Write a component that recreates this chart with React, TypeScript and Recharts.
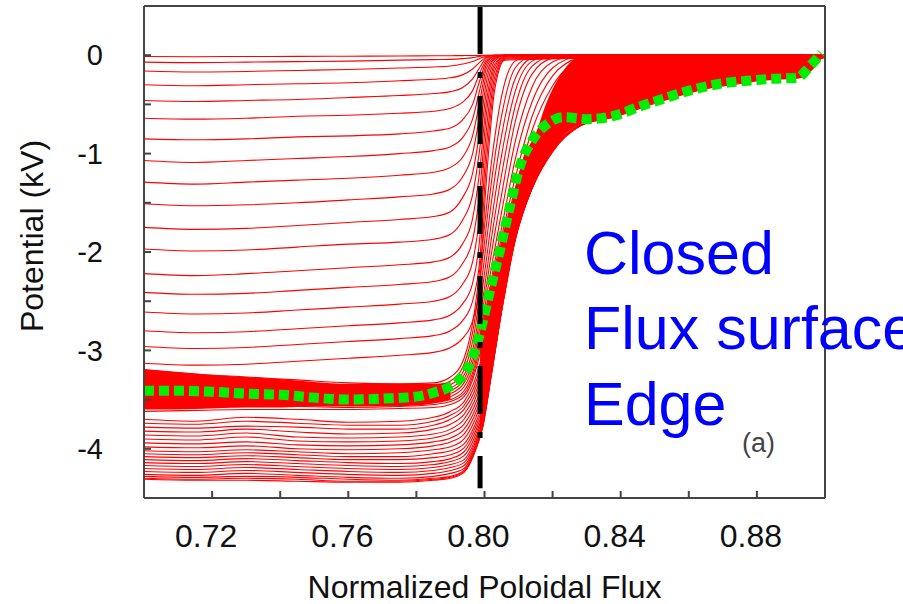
import { ComposedChart, Line, Area, XAxis, YAxis, ReferenceLine, Label } from 'recharts'

// flux grid for the shallow potential profiles (they all collapse onto 0 at the edge)
const UPPER_FLUX = [0.70, 0.715, 0.73, 0.745, 0.76, 0.775, 0.785, 0.79, 0.7935, 0.7965, 0.7985, 0.8005, 0.803, 0.806, 0.90]
const UPPER_PROFILES = [
  [-0.013, -0.015, -0.013, -0.012, -0.01, -0.008, -0.006, -0.005, -0.004, -0.003, -0.002, -0.001, 0, 0, 0],
  [-0.07, -0.075, -0.07, -0.065, -0.06, -0.05, -0.045, -0.042, -0.035, -0.025, -0.012, -0.004, 0, 0, 0],
  [-0.16, -0.17, -0.165, -0.155, -0.145, -0.13, -0.12, -0.11, -0.09, -0.065, -0.035, -0.01, 0, 0, 0],
  [-0.30, -0.31, -0.30, -0.29, -0.28, -0.26, -0.245, -0.23, -0.2, -0.14, -0.075, -0.02, 0, 0, 0],
  [-0.46, -0.47, -0.46, -0.45, -0.43, -0.41, -0.39, -0.37, -0.33, -0.24, -0.13, -0.03, 0, 0, 0],
  [-0.64, -0.65, -0.64, -0.62, -0.61, -0.59, -0.57, -0.54, -0.48, -0.36, -0.19, -0.05, -0.005, 0, 0],
  [-0.85, -0.86, -0.85, -0.83, -0.82, -0.8, -0.77, -0.74, -0.66, -0.5, -0.27, -0.07, -0.01, 0, 0],
  [-1.07, -1.09, -1.07, -1.05, -1.03, -1.0, -0.97, -0.93, -0.84, -0.65, -0.37, -0.1, -0.01, 0, 0],
  [-1.29, -1.31, -1.29, -1.27, -1.25, -1.22, -1.19, -1.14, -1.04, -0.82, -0.49, -0.14, -0.02, 0, 0],
  [-1.51, -1.53, -1.52, -1.5, -1.47, -1.44, -1.41, -1.36, -1.24, -1.0, -0.63, -0.2, -0.03, 0, 0],
  [-1.75, -1.77, -1.76, -1.73, -1.7, -1.67, -1.64, -1.59, -1.45, -1.2, -0.8, -0.28, -0.04, 0, 0],
  [-1.97, -1.99, -1.98, -1.95, -1.92, -1.9, -1.87, -1.82, -1.68, -1.42, -0.98, -0.38, -0.06, 0, 0],
  [-2.22, -2.24, -2.22, -2.19, -2.16, -2.13, -2.1, -2.05, -1.92, -1.66, -1.2, -0.5, -0.09, -0.01, 0],
  [-2.41, -2.43, -2.42, -2.39, -2.36, -2.33, -2.3, -2.25, -2.12, -1.88, -1.42, -0.62, -0.12, -0.01, 0],
  [-2.61, -2.63, -2.62, -2.59, -2.56, -2.53, -2.5, -2.45, -2.33, -2.1, -1.65, -0.78, -0.16, -0.02, 0],
  [-2.80, -2.82, -2.81, -2.78, -2.75, -2.72, -2.69, -2.64, -2.53, -2.32, -1.9, -0.95, -0.22, -0.03, 0],
  [-2.96, -2.98, -2.97, -2.94, -2.91, -2.88, -2.85, -2.8, -2.7, -2.5, -2.12, -1.12, -0.28, -0.04, 0],
  [-3.13, -3.15, -3.14, -3.11, -3.08, -3.05, -3.02, -2.97, -2.88, -2.7, -2.35, -1.3, -0.35, -0.05, 0],
]

// flux grid for the deep profiles that climb through the edge layer
const DEEP_FLUX = [0.70, 0.715, 0.73, 0.745, 0.76, 0.775, 0.785, 0.79, 0.794, 0.797, 0.7995, 0.802, 0.805, 0.809, 0.814, 0.82, 0.828, 0.838, 0.85, 0.865, 0.88, 0.90]
const BAND_PROFILES = [
  [-3.20, -3.24, -3.27, -3.30, -3.33, -3.34, -3.33, -3.27, -3.08, -2.62, -1.9, -1.1, -0.42, -0.06, 0, 0, 0, 0, 0, 0, 0, 0],
  [-3.25, -3.28, -3.31, -3.33, -3.36, -3.37, -3.36, -3.31, -3.14, -2.72, -2.05, -1.3, -0.62, -0.13, -0.01, 0, 0, 0, 0, 0, 0, 0],
  [-3.30, -3.33, -3.35, -3.37, -3.39, -3.40, -3.39, -3.35, -3.2, -2.82, -2.2, -1.5, -0.82, -0.24, -0.03, 0, 0, 0, 0, 0, 0, 0],
  [-3.35, -3.38, -3.39, -3.41, -3.43, -3.43, -3.42, -3.38, -3.25, -2.92, -2.35, -1.7, -1.02, -0.37, -0.06, 0, 0, 0, 0, 0, 0, 0],
  [-3.40, -3.42, -3.43, -3.45, -3.47, -3.47, -3.45, -3.41, -3.29, -3.0, -2.48, -1.87, -1.22, -0.52, -0.11, -0.01, 0, 0, 0, 0, 0, 0],
  [-3.45, -3.46, -3.47, -3.49, -3.51, -3.50, -3.48, -3.44, -3.33, -3.06, -2.58, -2.02, -1.42, -0.68, -0.19, -0.03, 0, 0, 0, 0, 0, 0],
  [-3.50, -3.50, -3.51, -3.52, -3.54, -3.53, -3.51, -3.47, -3.37, -3.12, -2.68, -2.16, -1.6, -0.88, -0.32, -0.07, 0, 0, 0, 0, 0, 0],
  [-3.54, -3.54, -3.54, -3.55, -3.56, -3.55, -3.53, -3.5, -3.41, -3.17, -2.76, -2.28, -1.76, -1.06, -0.47, -0.13, -0.01, 0, 0, 0, 0, 0],
  [-3.58, -3.58, -3.57, -3.57, -3.58, -3.57, -3.55, -3.52, -3.44, -3.21, -2.83, -2.33, -1.85, -1.25, -0.62, -0.21, -0.03, 0, 0, 0, 0, 0],
  [-3.62, -3.61, -3.6, -3.6, -3.6, -3.59, -3.58, -3.55, -3.47, -3.25, -2.9, -2.38, -1.9, -1.36, -0.76, -0.31, -0.06, -0.01, 0, 0, 0, 0],
]
const DEEP_PROFILES = [
  [-3.70, -3.72, -3.68, -3.70, -3.73, -3.72, -3.68, -3.62, -3.52, -3.32, -3.02, -2.55, -2.0, -1.45, -0.95, -0.56, -0.26, -0.07, -0.01, 0, 0, 0],
  [-3.74, -3.75, -3.72, -3.74, -3.76, -3.76, -3.72, -3.66, -3.56, -3.37, -3.08, -2.62, -2.06, -1.5, -1.0, -0.6, -0.3, -0.09, -0.015, 0, 0, 0],
  [-3.78, -3.79, -3.77, -3.78, -3.80, -3.80, -3.76, -3.70, -3.60, -3.42, -3.14, -2.68, -2.12, -1.55, -1.04, -0.63, -0.33, -0.12, -0.02, 0, 0, 0],
  [-3.82, -3.83, -3.80, -3.83, -3.85, -3.84, -3.80, -3.75, -3.65, -3.47, -3.2, -2.75, -2.18, -1.6, -1.08, -0.67, -0.37, -0.15, -0.03, 0, 0, 0],
  [-3.86, -3.87, -3.84, -3.88, -3.89, -3.88, -3.85, -3.80, -3.70, -3.52, -3.26, -2.82, -2.24, -1.64, -1.12, -0.7, -0.41, -0.19, -0.05, -0.005, 0, 0],
  [-3.90, -3.91, -3.88, -3.92, -3.93, -3.92, -3.89, -3.84, -3.75, -3.57, -3.32, -2.88, -2.3, -1.68, -1.16, -0.74, -0.45, -0.23, -0.07, -0.01, 0, 0],
  [-3.94, -3.95, -3.93, -3.96, -3.97, -3.96, -3.93, -3.89, -3.8, -3.62, -3.38, -2.94, -2.35, -1.72, -1.19, -0.77, -0.49, -0.27, -0.1, -0.02, 0, 0],
  [-3.98, -3.99, -3.97, -4.0, -4.01, -4.0, -3.97, -3.93, -3.85, -3.67, -3.43, -3.0, -2.4, -1.75, -1.22, -0.8, -0.52, -0.31, -0.13, -0.03, 0, 0],
  [-4.02, -4.03, -4.01, -4.03, -4.05, -4.04, -4.01, -3.98, -3.9, -3.72, -3.48, -3.05, -2.44, -1.78, -1.25, -0.83, -0.55, -0.35, -0.16, -0.05, -0.005, 0],
  [-4.05, -4.06, -4.04, -4.06, -4.08, -4.08, -4.05, -4.02, -3.95, -3.77, -3.53, -3.09, -2.47, -1.8, -1.27, -0.86, -0.58, -0.39, -0.2, -0.07, -0.01, 0],
  [-4.08, -4.09, -4.07, -4.09, -4.11, -4.11, -4.09, -4.06, -3.99, -3.81, -3.57, -3.12, -2.5, -1.82, -1.29, -0.88, -0.61, -0.43, -0.24, -0.1, -0.02, 0],
  [-4.11, -4.12, -4.1, -4.12, -4.14, -4.15, -4.13, -4.1, -4.03, -3.85, -3.61, -3.15, -2.52, -1.84, -1.3, -0.9, -0.64, -0.47, -0.28, -0.13, -0.04, 0],
  [-4.14, -4.15, -4.13, -4.15, -4.17, -4.18, -4.16, -4.13, -4.07, -3.89, -3.64, -3.18, -2.54, -1.86, -1.32, -0.92, -0.66, -0.5, -0.32, -0.16, -0.06, 0],
  [-4.17, -4.18, -4.16, -4.18, -4.2, -4.21, -4.19, -4.16, -4.11, -3.93, -3.67, -3.2, -2.56, -1.87, -1.33, -0.94, -0.68, -0.53, -0.36, -0.2, -0.09, 0],
  [-4.20, -4.21, -4.19, -4.21, -4.23, -4.24, -4.22, -4.19, -4.14, -3.96, -3.7, -3.22, -2.57, -1.88, -1.34, -0.95, -0.7, -0.56, -0.4, -0.24, -0.12, -0.005],
  [-4.23, -4.24, -4.22, -4.24, -4.26, -4.27, -4.25, -4.22, -4.17, -3.99, -3.72, -3.23, -2.58, -1.88, -1.35, -0.96, -0.71, -0.58, -0.43, -0.27, -0.16, -0.01],
  [-4.26, -4.27, -4.25, -4.27, -4.29, -4.3, -4.28, -4.25, -4.2, -4.01, -3.74, -3.24, -2.59, -1.87, -1.35, -0.97, -0.71, -0.6, -0.45, -0.3, -0.2, -0.01],
  [-4.28, -4.29, -4.28, -4.29, -4.31, -4.32, -4.3, -4.28, -4.22, -4.03, -3.76, -3.25, -2.6, -1.86, -1.35, -0.97, -0.72, -0.61, -0.47, -0.32, -0.23, -0.015],
  [-4.30, -4.31, -4.3, -4.31, -4.33, -4.33, -4.31, -4.29, -4.23, -4.04, -3.77, -3.25, -2.6, -1.85, -1.35, -0.98, -0.72, -0.62, -0.48, -0.33, -0.25, -0.02],
  [-4.31, -4.32, -4.32, -4.33, -4.34, -4.34, -4.32, -4.3, -4.24, -4.05, -3.78, -3.25, -2.6, -1.85, -1.35, -0.98, -0.72, -0.63, -0.49, -0.34, -0.26, -0.02],
]

// where the profiles pile up so densely they read as solid red
const BAND_FLUX = [0.70, 0.71, 0.72, 0.73, 0.74, 0.75, 0.76, 0.77, 0.78, 0.785, 0.79]
const BAND_HIGH = [-3.19, -3.22, -3.25, -3.27, -3.29, -3.32, -3.34, -3.34, -3.34, -3.34, -3.32]
const BAND_LOW = [-3.6, -3.6, -3.59, -3.58, -3.58, -3.57, -3.57, -3.57, -3.56, -3.54, -3.5]
const EDGE_FLUX = [0.7987, 0.800, 0.802, 0.8045, 0.806, 0.808, 0.810, 0.812, 0.815, 0.818, 0.822, 0.826, 0.830, 0.838, 0.846, 0.854, 0.862, 0.870, 0.878, 0.886, 0.892, 0.896, 0.899]
const EDGE_LOW = [-3.85, -3.55, -3.2, -2.72, -2.45, -2.08, -1.75, -1.52, -1.26, -1.06, -0.86, -0.74, -0.68, -0.63, -0.53, -0.44, -0.37, -0.31, -0.27, -0.25, -0.24, -0.16, -0.02]
const EDGE_HIGH = [-2.82, -2.62, -2.35, -1.97, -1.75, -1.5, -1.22, -1.0, -0.8, -0.5, -0.22, -0.05, 0, 0, 0, 0, 0, 0, 0, 0, 0, 0, 0]

// highlighted profile
const HIGHLIGHT_FLUX = [0.70, 0.71, 0.72, 0.73, 0.74, 0.75, 0.76, 0.77, 0.78, 0.785, 0.7919, 0.7963, 0.7987, 0.801, 0.8046, 0.8075, 0.8104, 0.8143, 0.8184, 0.8231, 0.8302, 0.8377, 0.8457, 0.8536, 0.8612, 0.8692, 0.8771, 0.8847, 0.8918, 0.8956, 0.899]
const HIGHLIGHT_POT = [-3.41, -3.41, -3.42, -3.44, -3.45, -3.48, -3.50, -3.49, -3.47, -3.43, -3.32, -3.09, -2.82, -2.48, -1.97, -1.53, -1.13, -0.85, -0.70, -0.63, -0.65, -0.62, -0.52, -0.43, -0.35, -0.29, -0.26, -0.24, -0.23, -0.11, 0.02]

const SEPARATRIX = 0.7987

const X_TICKS = [0.70, 0.72, 0.74, 0.76, 0.78, 0.80, 0.82, 0.84, 0.86, 0.88, 0.90]
const X_TICK_LABELS = ['', '0.72', '', '0.76', '', '0.80', '', '0.84', '', '0.88', '']
const Y_TICKS = [0.5, 0, -0.5, -1, -1.5, -2, -2.5, -3, -3.5, -4, -4.5]
const Y_TICK_LABELS = ['', '0', '', '-1', '', '-2', '', '-3', '', '-4', '']

const FONT = '"Liberation Sans", Arial, Helvetica, sans-serif'
const RED = '#ff0000'
const FRAME = '#444'

const toPoints = (xs: number[], vs: number[]) => xs.map((x, i) => ({ x, v: vs[i] }))
const toRange = (xs: number[], lo: number[], hi: number[]) => xs.map((x, i) => ({ x, range: [lo[i], hi[i]] }))

const labelFor = (ticks: number[], labels: string[], value: number) =>
  labels[ticks.findIndex(t => Math.abs(t - value) < 1e-6)] ?? ''

function BottomTick({ x, y, payload }: any) {
  const text = labelFor(X_TICKS, X_TICK_LABELS, payload.value)
  if (!text) return null
  return (
    <text x={x - 6} y={y} dy="0.71em" textAnchor="middle" fontSize={32} fill="#111" fontFamily={FONT}>
      {text}
    </text>
  )
}

function LeftTick({ x, y, payload }: any) {
  const text = labelFor(Y_TICKS, Y_TICK_LABELS, payload.value)
  if (!text) return null
  return (
    <text x={x} y={y} dy="0.355em" textAnchor="end" fontSize={29} fill="#111" fontFamily={FONT}>
      {text}
    </text>
  )
}

function PotentialTitle({ viewBox }: any) {
  const cy = viewBox ? viewBox.y + viewBox.height / 2 - 16 : 236
  return (
    <text x={43} y={cy} transform={`rotate(-90 43 ${cy})`} textAnchor="middle" fontSize={32} fill="#111" fontFamily={FONT}>
      Potential (kV)
    </text>
  )
}

const lineProps = {
  type: 'monotone' as const,
  dataKey: 'v',
  stroke: RED,
  strokeWidth: 1.1,
  dot: false,
  activeDot: false,
  isAnimationActive: false,
}

export default function App() {
  return (
    <div style={{ position: 'absolute', left: 0, top: 0, width: 903, height: 604, background: '#fff', fontFamily: FONT }}>
      <ComposedChart width={903} height={604} margin={{ top: 0, right: 0, bottom: 0, left: 0 }}>
        <XAxis
          dataKey="x" type="number" domain={[0.70, 0.90]} ticks={X_TICKS} allowDataOverflow
          height={106} tickSize={-7} tickMargin={33} tick={BottomTick}
          axisLine={{ stroke: FRAME, strokeWidth: 2 }} tickLine={{ stroke: FRAME, strokeWidth: 2 }}
        >
          <Label value="Normalized Poloidal Flux" position="insideBottom" offset={6} fontSize={32} fill="#111" />
        </XAxis>
        <XAxis
          xAxisId="top" orientation="top" dataKey="x" type="number" domain={[0.70, 0.90]} ticks={X_TICKS}
          allowDataOverflow height={6} tickSize={-7} tick={false}
          axisLine={{ stroke: FRAME, strokeWidth: 2 }} tickLine={{ stroke: FRAME, strokeWidth: 2 }}
        />
        <YAxis
          type="number" domain={[-4.5, 0.5]} ticks={Y_TICKS} allowDataOverflow
          width={144} tickSize={-7} tickMargin={48} tick={LeftTick}
          axisLine={{ stroke: FRAME, strokeWidth: 2 }} tickLine={{ stroke: FRAME, strokeWidth: 2 }}
        >
          <Label content={PotentialTitle} />
        </YAxis>
        <YAxis
          yAxisId="right" orientation="right" type="number" domain={[-4.5, 0.5]} ticks={Y_TICKS}
          allowDataOverflow width={78} tickSize={-7} tick={false}
          axisLine={{ stroke: FRAME, strokeWidth: 2 }} tickLine={{ stroke: FRAME, strokeWidth: 2 }}
        />

        <Area data={toRange(BAND_FLUX, BAND_LOW, BAND_HIGH)} dataKey="range" type="monotone"
          stroke="none" fill={RED} fillOpacity={1} isAnimationActive={false} activeDot={false} />
        <Area data={toRange(EDGE_FLUX, EDGE_LOW, EDGE_HIGH)} dataKey="range" type="monotone"
          stroke="none" fill={RED} fillOpacity={1} isAnimationActive={false} activeDot={false} />

        {UPPER_PROFILES.map((vs, i) => (
          <Line key={`u${i}`} data={toPoints(UPPER_FLUX, vs)} {...lineProps} />
        ))}
        {BAND_PROFILES.map((vs, i) => (
          <Line key={`b${i}`} data={toPoints(DEEP_FLUX, vs)} {...lineProps} />
        ))}
        {DEEP_PROFILES.map((vs, i) => (
          <Line key={`d${i}`} data={toPoints(DEEP_FLUX, vs)} {...lineProps} />
        ))}

        <Line data={toPoints(HIGHLIGHT_FLUX, HIGHLIGHT_POT)} type="monotone" dataKey="v"
          stroke="#00ee00" strokeWidth={10} strokeDasharray="10 5" dot={false} activeDot={false}
          isAnimationActive={false} />

        <ReferenceLine
          segment={[{ x: SEPARATRIX, y: 0.5 }, { x: SEPARATRIX, y: -4.4 }]}
          stroke="#000" strokeWidth={5} strokeDasharray="48 18 6 18"
        />
      </ComposedChart>

      <svg width={903} height={604} style={{ position: 'absolute', left: 0, top: 0, pointerEvents: 'none' }}>
        <g fill="#0000ff" fontSize={61} fontFamily={FONT}>
          <text x={584} y={274}>Closed</text>
          <text x={584} y={349}>Flux surface</text>
          <text x={584} y={425}>Edge</text>
        </g>
        <text x={742} y={452} fontSize={27} fill="#444" fontFamily={FONT}>(a)</text>
      </svg>
    </div>
  )
}
